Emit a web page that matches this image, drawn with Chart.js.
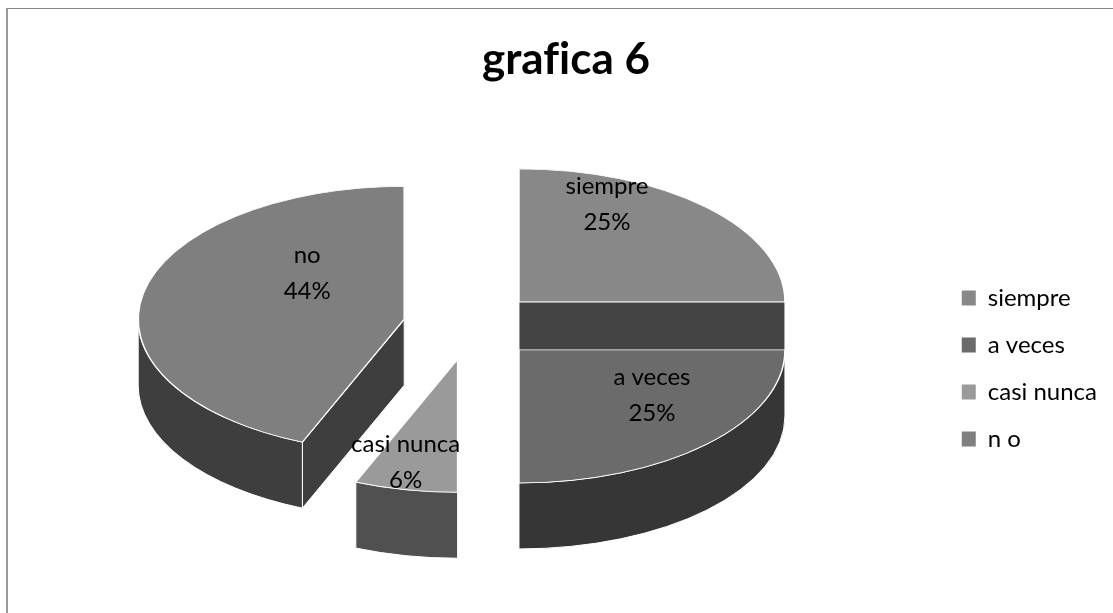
<!DOCTYPE html>
<html>
<head>
<meta charset="utf-8">
<style>
html,body{margin:0;padding:0;background:#fff;overflow:hidden}
#wrap{position:relative;width:1113px;height:613px}
#frame{position:absolute;left:6px;top:8px;right:0;bottom:0;border-left:2px solid #999;border-top:1px solid #868686}
canvas{position:absolute;left:0;top:0}
</style>
<script src="https://cdn.jsdelivr.net/npm/chart.js@4/dist/chart.umd.min.js"></script>
</head>
<body>
<div id="wrap"><div id="frame"></div><canvas id="c" width="1113" height="613"></canvas></div>
<script>
const titleText = 'grafica 6';
const legendLabels = ['siempre', 'a veces', 'casi nunca', 'n o'];
const sliceLabels = ['siempre', 'a veces', 'casi nunca', 'no'];
const values = [4, 4, 1, 7];
const topColors = ['#888888', '#6b6b6b', '#9a9a9a', '#7f7f7f'];
const wallColors = ['#444444', '#363636', '#505050', '#3e3e3e'];
const labelShift = [[88, -98], [133, 45], [-52, 103], [-97, -46]];

const SQUASH = 0.5, DEPTH = 66, EXPLODE = 68, FONT = 'Lato, sans-serif';
const total = values.reduce((a, b) => a + b, 0);

function sliceGeom(chart, arc) {
  const cy = (chart.chartArea.top + chart.chartArea.bottom) / 2;
  return {
    x: arc.x,
    y: cy + (arc.y - cy) * SQUASH,
    r: arc.outerRadius, a0: arc.startAngle, a1: arc.endAngle
  };
}

const pie3d = {
  id: 'pie3d',
  afterLayout(chart) {
    chart.titleBlock.left += 11;
    chart.titleBlock.right += 11;
  },
  afterDatasetsUpdate(chart) {
    chart.getDatasetMeta(0).data.forEach(arc => {
      const mid = (arc.startAngle + arc.endAngle) / 2;
      arc.x += Math.cos(mid) * EXPLODE;
      arc.y += Math.sin(mid) * EXPLODE;
    });
  },
  beforeDraw(chart) {
    chart.ctx.textRendering = 'optimizeSpeed';
  },
  beforeDatasetsDraw(chart) {
    const ctx = chart.ctx, arcs = chart.getDatasetMeta(0).data;
    ctx.save();
    ctx.strokeStyle = '#ffffff';
    ctx.lineWidth = 1;
    ctx.lineJoin = 'round';
    [0, 3, 2, 1].forEach(i => {
      const g = sliceGeom(chart, arcs[i]);
      ctx.fillStyle = wallColors[i];
      [[g.a0, g.a0 - Math.PI / 2], [g.a1, g.a1 + Math.PI / 2]].forEach(([a, n]) => {
        if (Math.sin(n) > 1e-6) {
          const px = g.x + g.r * Math.cos(a), py = g.y + g.r * SQUASH * Math.sin(a);
          ctx.beginPath();
          ctx.moveTo(g.x, g.y);
          ctx.lineTo(px, py);
          ctx.lineTo(px, py + DEPTH);
          ctx.lineTo(g.x, g.y + DEPTH);
          ctx.closePath();
          ctx.fill();
          ctx.stroke();
        }
      });
      const s = Math.max(g.a0, 0), e = Math.min(g.a1, Math.PI);
      if (s < e) {
        ctx.beginPath();
        ctx.ellipse(g.x, g.y, g.r, g.r * SQUASH, 0, s, e);
        ctx.ellipse(g.x, g.y + DEPTH, g.r, g.r * SQUASH, 0, e, s, true);
        ctx.closePath();
        ctx.fill();
        ctx.stroke();
      }
    });
    ctx.restore();
    const cy = (chart.chartArea.top + chart.chartArea.bottom) / 2;
    ctx.save();
    ctx.translate(0, cy);
    ctx.scale(1, SQUASH);
    ctx.translate(0, -cy);
  },
  afterDatasetsDraw(chart) {
    const ctx = chart.ctx, arcs = chart.getDatasetMeta(0).data;
    ctx.restore();
    ctx.save();
    ctx.font = '24px ' + FONT;
    ctx.fillStyle = '#000000';
    ctx.textAlign = 'center';
    ctx.textBaseline = 'middle';
    arcs.forEach((arc, i) => {
      const g = sliceGeom(chart, arc);
      const x = g.x + labelShift[i][0], y = g.y + labelShift[i][1];
      ctx.fillText(sliceLabels[i], x, y - 18);
      ctx.fillText(Math.round(values[i] / total * 100) + '%', x, y + 18);
    });
    ctx.restore();
  }
};

const baseLegendItems = Chart.overrides.pie.plugins.legend.labels.generateLabels;

new Chart(document.getElementById('c'), {
  type: 'pie',
  data: {
    labels: legendLabels,
    datasets: [{
      data: values,
      backgroundColor: topColors,
      borderColor: '#ffffff',
      borderWidth: 1.5,
      hoverOffset: 0,
      clip: false
    }]
  },
  options: {
    responsive: false,
    animation: false,
    radius: 266,
    cutout: '0%',
    layout: { padding: { left: 3, right: 6, top: 0, bottom: 139 } },
    plugins: {
      tooltip: { enabled: false },
      title: {
        display: true,
        text: titleText,
        color: '#000000',
        font: { family: FONT, size: 44, weight: 'bold' },
        padding: { top: 33, bottom: 92 }
      },
      legend: {
        position: 'right',
        align: 'end',
        fullSize: false,
        labels: {
          color: '#000000',
          font: { family: FONT, size: 24 },
          boxWidth: 14,
          boxHeight: 15,
          padding: 23,
          generateLabels: chart => baseLegendItems(chart).map(item => Object.assign(item, { lineWidth: 0 }))
        }
      }
    }
  },
  plugins: [pie3d]
});
</script>
</body>
</html>
